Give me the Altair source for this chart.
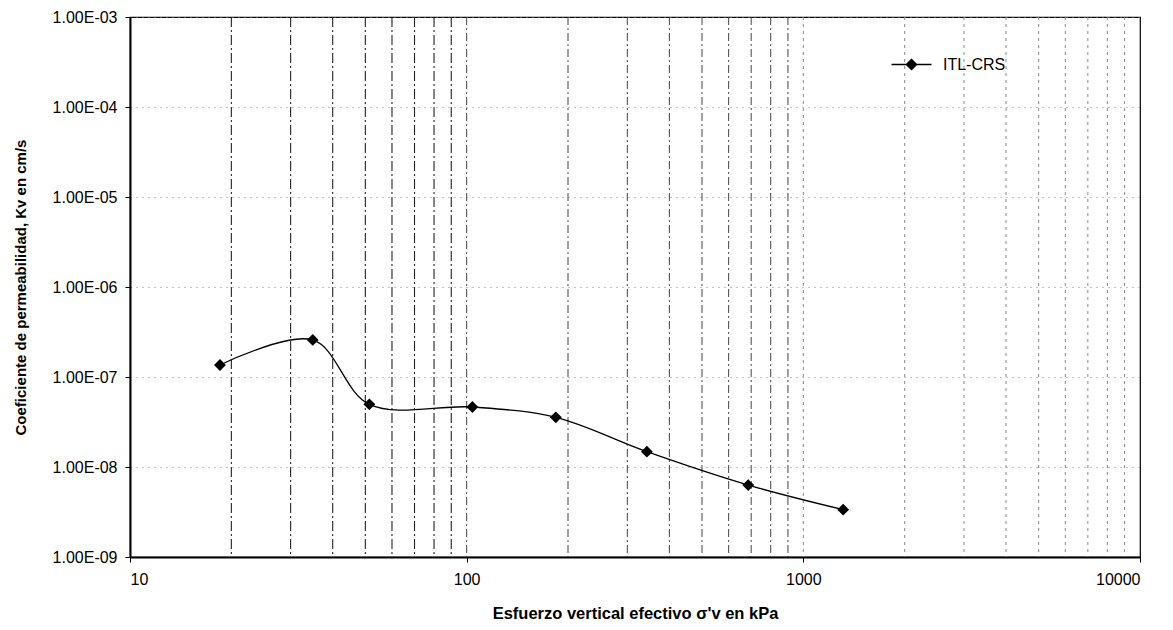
import altair as alt
import pandas as pd

# ---- data ----
sigma = [18.5, 34.9, 51.4, 104, 184, 343, 686, 1313]          # kPa
kv = [1.36e-7, 2.58e-7, 4.97e-8, 4.64e-8, 3.56e-8, 1.48e-8, 6.3e-9, 3.36e-9]  # cm/s
series_name = "ITL-CRS"

x_ticks = [10, 100, 1000, 10000]
y_ticks = [1e-9, 1e-8, 1e-7, 1e-6, 1e-5, 1e-4, 1e-3]
grid_dec1 = [20, 30, 40, 50, 60, 70, 80, 90]
grid_dec2 = [100, 200, 300, 400, 500, 600, 700, 800, 900]
grid_dec3 = [1000, 2000, 3000, 4000, 5000, 6000, 7000, 8000, 9000]

df = pd.DataFrame({"sigma": sigma, "kv": kv, "serie": [series_name] * len(sigma)})

FONT = "Liberation Sans"

xscale = alt.Scale(type="log", domain=[10, 10000], nice=False)
yscale = alt.Scale(type="log", domain=[1e-9, 1e-3], nice=False)

xaxis = alt.Axis(
    title="Esfuerzo vertical efectivo σ'v en kPa",
    values=x_ticks, format="d", grid=False,
    labelFont=FONT, labelFontSize=16, labelColor="black", labelPadding=9,
    tickSize=5, tickColor="black", domainColor="black", domainWidth=2,
    titleFont=FONT, titleFontSize=16.5, titleFontWeight="bold", titleColor="black",
    titlePadding=18,
)
yaxis = alt.Axis(
    title="Coeficiente de permeabilidad, Kv en cm/s",
    values=y_ticks,
    labelExpr="replace(format(datum.value, '.2e'), 'e-', 'E-0')",
    grid=True, gridColor="#888888", gridDash=[1, 5], gridWidth=1,
    labelFont=FONT, labelFontSize=16, labelColor="black", labelPadding=8,
    tickSize=5, tickColor="black", domainColor="black", domainWidth=2,
    titleFont=FONT, titleFontSize=15, titleFontWeight="bold", titleColor="black",
    titlePadding=24,
)


def vgrid(vals, color, dash, width):
    return alt.Chart(pd.DataFrame({"g": vals})).mark_rule(
        color=color, strokeDash=dash, strokeWidth=width
    ).encode(x=alt.X("g:Q", scale=xscale, axis=xaxis))


g1 = vgrid(grid_dec1, "#222222", [10, 3, 2, 3], 1.1)
g2 = vgrid(grid_dec2, "#444444", [8, 3, 2, 3], 1)
g3 = vgrid(grid_dec3, "#888888", [3, 4], 1)

base = alt.Chart(df)

line = base.mark_line(color="black", strokeWidth=1.3, interpolate="catmull-rom").encode(
    x=alt.X("sigma:Q", scale=xscale, axis=xaxis),
    y=alt.Y("kv:Q", scale=yscale, axis=yaxis),
)

legend_symbol = "M-1.6,0L-0.4,0M0.4,0L1.6,0M0,-0.4L0.4,0L0,0.4L-0.4,0Z"

points = base.mark_point(shape="diamond", filled=True, size=140, opacity=1).encode(
    x=alt.X("sigma:Q", scale=xscale, axis=xaxis),
    y=alt.Y("kv:Q", scale=yscale, axis=yaxis),
    color=alt.Color(
        "serie:N",
        scale=alt.Scale(domain=[series_name], range=["black"]),
        legend=alt.Legend(
            title=None, orient="none", legendX=768, legendY=34,
            symbolType=legend_symbol, symbolSize=625,
            symbolFillColor="black", symbolStrokeColor="black", symbolStrokeWidth=1.5,
            labelFont=FONT, labelFontSize=16, labelColor="black", labelOffset=18,
            padding=0,
        ),
    ),
)

chart = (
    alt.layer(g1, g2, g3, line, points)
    .properties(
        width=1010, height=540,
        autosize=alt.AutoSizeParams(type="none"),
        padding={"left": 130, "top": 17, "right": 33, "bottom": 73},
        background="white",
    )
    .configure_view(stroke="black", strokeWidth=1.2)
)

chart.save("out.html", embed_options={"renderer": "svg", "actions": False})
